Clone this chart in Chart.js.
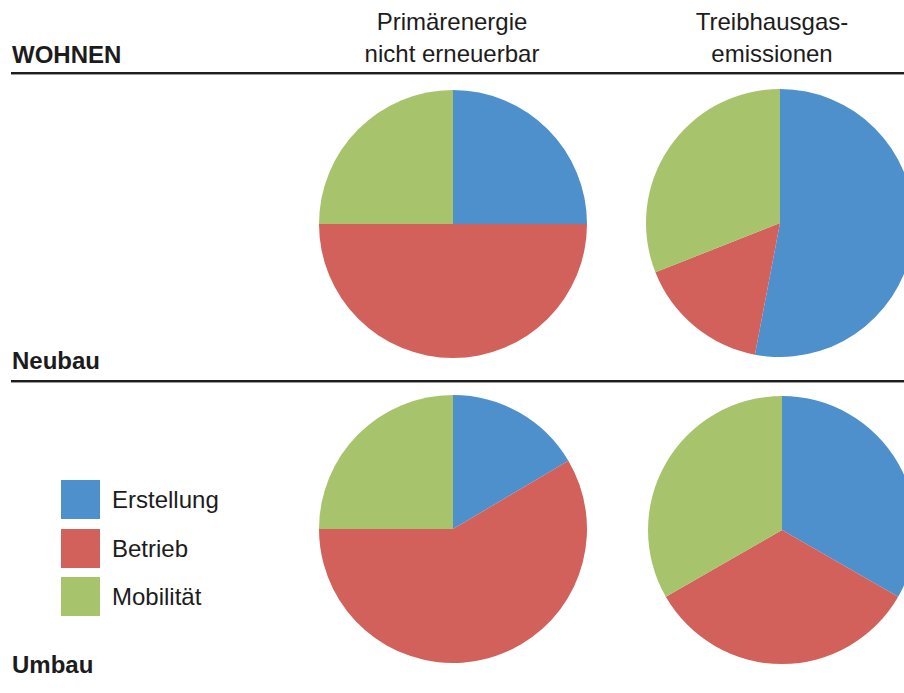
<!DOCTYPE html>
<html>
<head>
<meta charset="utf-8">
<script src="https://cdn.jsdelivr.net/npm/chart.js@4"></script>
<style>
    html, body { margin: 0; padding: 0; background: #fff; overflow: hidden; }
    body { width: 904px; height: 693px; position: relative; font-family: "Liberation Sans", Arial, sans-serif; color: #1c1c1c; }
    .txt { position: absolute; font-size: 24px; line-height: 24px; white-space: nowrap; }
    .bold { font-weight: bold; }
    .head { position: absolute; font-size: 24px; line-height: 32px; text-align: center; width: 260px; }
    .rule { position: absolute; left: 11px; width: 893px; height: 2px; background: #1e1e1e; border-bottom: 1px solid #9a9a9a; }
    .pie { position: absolute; }
    .swatch { position: absolute; width: 39px; height: 39px; }
</style>
</head>
<body>
<div class="txt bold" style="left:12px; top:43px;">WOHNEN</div>
<div class="head" style="left:322px; top:6px;">Primärenergie<br>nicht erneuerbar</div>
<div class="head" style="left:642px; top:6px;">Treibhausgas-<br>emissionen</div>
<div class="rule" style="top:72px;"></div>
<div class="txt bold" style="left:12px; top:349px;">Neubau</div>
<div class="rule" style="top:380px;"></div>
<div class="txt bold" style="left:12px; top:653px;">Umbau</div>

<canvas id="neubauPe" class="pie" width="268" height="268" style="left:319px; top:90px;"></canvas>
<canvas id="neubauThg" class="pie" width="268" height="268" style="left:646px; top:89px;"></canvas>
<canvas id="umbauPe" class="pie" width="268" height="268" style="left:319px; top:395px;"></canvas>
<canvas id="umbauThg" class="pie" width="268" height="268" style="left:648px; top:396px;"></canvas>

<div id="legend"></div>

<script>
// Kategorien und Anteile in Prozent
var categories = ["Erstellung", "Betrieb", "Mobilität"];
var sliceColors = ["#4d90cc", "#d1615a", "#a7c46d"];

var neubauPrimaer = [25, 50, 25];
var neubauTreibhaus = [53, 16, 31];
var umbauPrimaer = [16.5, 58.5, 25];
var umbauTreibhaus = [33.3, 33.4, 33.3];

function drawPie(id, values) {
    new Chart(document.getElementById(id), {
        type: "pie",
        data: {
            labels: categories,
            datasets: [{
                data: values,
                backgroundColor: sliceColors,
                borderWidth: 0,
                hoverOffset: 0
            }]
        },
        options: {
            responsive: false,
            animation: false,
            events: [],
            layout: { padding: 0 },
            plugins: {
                legend: { display: false },
                tooltip: { enabled: false }
            }
        }
    });
}

drawPie("neubauPe", neubauPrimaer);
drawPie("neubauThg", neubauTreibhaus);
drawPie("umbauPe", umbauPrimaer);
drawPie("umbauThg", umbauTreibhaus);

// Legende links unten
var legendBox = document.getElementById("legend");
for (var i = 0; i < categories.length; i++) {
    var rowY = 480 + i * 48.5;
    var sw = document.createElement("div");
    sw.className = "swatch";
    sw.style.left = "61px";
    sw.style.top = rowY + "px";
    sw.style.background = sliceColors[i];
    legendBox.appendChild(sw);

    var lbl = document.createElement("div");
    lbl.className = "txt";
    lbl.style.left = "112px";
    lbl.style.top = (rowY + 8) + "px";
    lbl.textContent = categories[i];
    legendBox.appendChild(lbl);
}
</script>
</body>
</html>
